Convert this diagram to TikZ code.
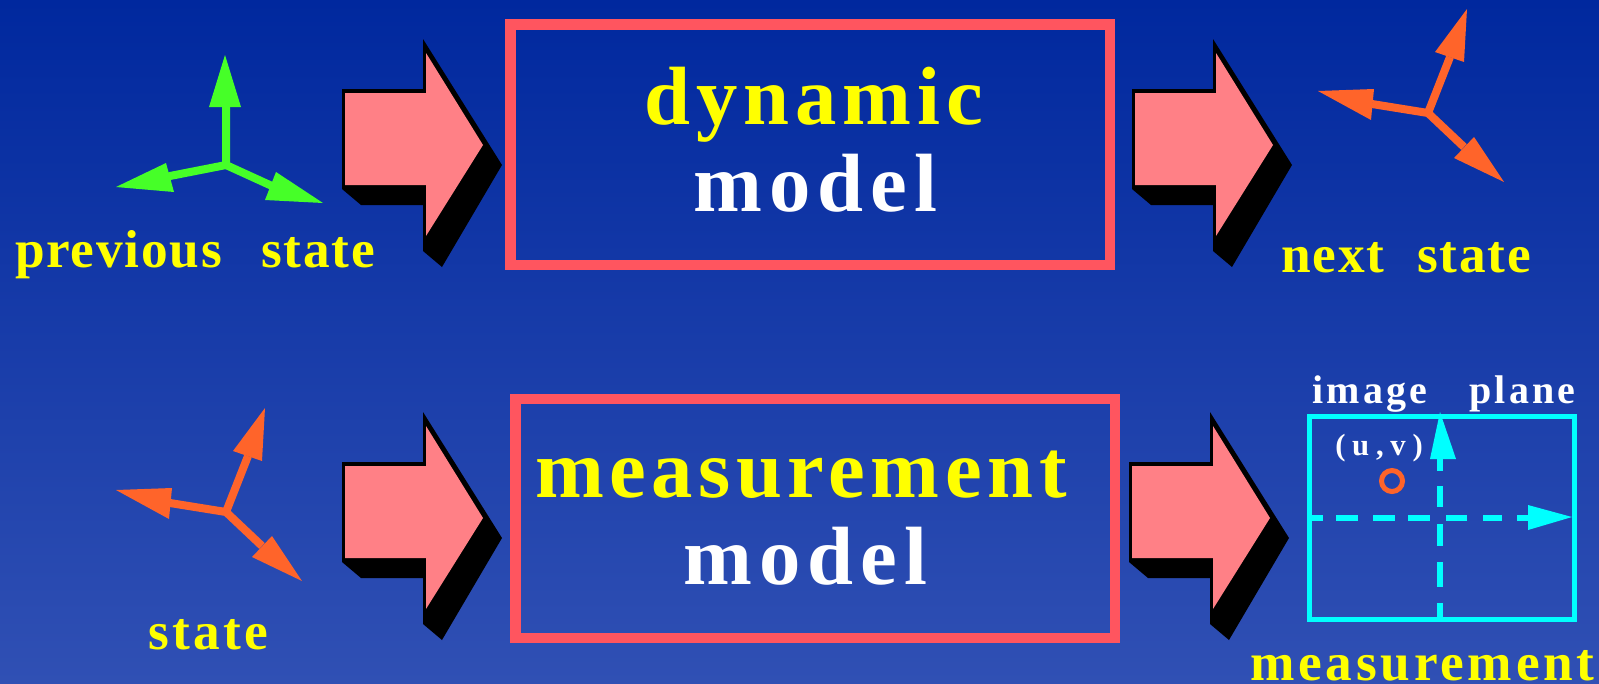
\documentclass[tikz,border=0pt]{standalone}
\usepackage{fontspec}
\setmainfont{Liberation Serif}
\newcommand{\bigtxt}{\fontsize{62}{62}\selectfont\bfseries\addfontfeature{LetterSpace=7.2}}
\newcommand{\modeltxt}{\fontsize{62}{62}\selectfont\bfseries\addfontfeature{LetterSpace=8.5}}
\newcommand{\longtxt}{\fontsize{62}{62}\selectfont\bfseries\addfontfeature{LetterSpace=6.7}}
\newcommand{\smalltxt}{\fontsize{40}{42}\selectfont\bfseries\addfontfeature{LetterSpace=3.2}}
\newcommand{\widetxt}{\fontsize{40}{42}\selectfont\bfseries\addfontfeature{LetterSpace=6}}
\newcommand{\bottomtxt}{\fontsize{40}{42}\selectfont\bfseries\addfontfeature{LetterSpace=7}}
\newcommand{\imgtxt}{\fontsize{30}{32}\selectfont\bfseries\addfontfeature{LetterSpace=8}}
\newcommand{\tinytxt}{\fontsize{23}{25}\selectfont\bfseries\addfontfeature{LetterSpace=22}}
\definecolor{boxred}{RGB}{255,85,95}
\definecolor{pinkfill}{RGB}{255,128,134}
\definecolor{orangeax}{RGB}{255,100,42}
\definecolor{greenax}{RGB}{70,255,40}
\definecolor{cyanax}{RGB}{0,255,255}
\definecolor{txtyellow}{RGB}{255,255,0}
\tikzset{
  modelbox/.style={draw=boxred,line width=8pt,fill=none},
  bigword/.style={anchor=base west,inner sep=0pt,font=\bigtxt},
  modelword/.style={anchor=base west,inner sep=0pt,font=\modeltxt,text=white},
  longword/.style={anchor=base west,inner sep=0pt,font=\longtxt},
  smallword/.style={anchor=base west,inner sep=0pt,font=\smalltxt,text=txtyellow},
  wideword/.style={anchor=base west,inner sep=0pt,font=\widetxt,text=txtyellow},
  bottomword/.style={anchor=base west,inner sep=0pt,font=\bottomtxt,text=txtyellow},
  imgword/.style={anchor=base west,inner sep=0pt,font=\imgtxt,text=white},
  axisline/.style={line width=6pt},
  cyanline/.style={draw=cyanax,line width=4.5pt},
}
\newcommand{\blockarrow}[2]{%
  \begin{scope}[shift={(#2)}]
    \fill[black] (342,89)--(423,89)--(423,39)--(502,165)--(442,267)--(423,251)--(423,205)--(361,205)--(342,189)--cycle;
    \fill[pinkfill] (345,93)--(426,93)--(426,53)--(483,145)--(426,236)--(426,185)--(345,185)--cycle;
    \coordinate (#1) at (483,145);
  \end{scope}}
\newcommand{\greentriad}{%
    \draw[greenax,axisline,line cap=round,line join=round] (226,107)--(226,165)--(170,176);
    \draw[greenax,axisline,line cap=round] (226,165)--(272,186);
    \fill[greenax] (209,107)--(225,55)--(241,107)--cycle;
    \fill[greenax] (116,187)--(166,163)--(174,192)--cycle;
    \fill[greenax] (323,203)--(276,172)--(265,200)--cycle;}
\newcommand{\orangetriad}{%
    \draw[orangeax,axisline] (22,-56)--(0,0)--(-56,-9);
    \draw[orangeax,axisline] (0,0)--(36,34);
    \fill[orangeax] (39,-104)--(7,-61)--(36,-51)--cycle;
    \fill[orangeax] (-110,-22)--(-54,-24)--(-57,7)--cycle;
    \fill[orangeax] (76,69)--(46,24)--(26,45)--cycle;}
\begin{document}
\begin{tikzpicture}[x=0.75pt,y=-0.75pt]
\useasboundingbox (0,0) rectangle (1599,683);
\shade[top color={rgb,255:red,0;green,40;blue,158},bottom color={rgb,255:red,48;green,80;blue,180}] (0,0) rectangle (1599,683);
% boxes
\draw[modelbox] (510.5,24.5) rectangle (1110,265);
\draw[modelbox] (515.5,399) rectangle (1115,638);
% block arrows
\blockarrow{a1}{0,0}
\blockarrow{a2}{790,0}
\blockarrow{a3}{0,373}
\blockarrow{a4}{787,373}
% big texts
\node[bigword,text=txtyellow] (t1) at (644,124) {dynamic};
\node[modelword] (t2) at (693,211) {model};
\node[longword,text=txtyellow] (t3) at (535,497) {measurement};
\node[modelword] (t4) at (683,584) {model};
% small labels
\node[smallword] (l1) at (15,267) {previous};
\node[smallword] (l2) at (261,267) {state};
\node[smallword] (l3) at (1281,272) {next};
\node[smallword] (l4) at (1417,272) {state};
\node[wideword] (l5) at (148,649) {state};
\node[bottomword] (l6) at (1250,680) {measurement};
\node[imgword] (l7) at (1312,403) {image};
\node[imgword] (l8) at (1469,403) {plane};
\node[anchor=base west,inner sep=0pt,font=\tinytxt,text=white] (l9) at (1335,455) {(u,v)};
% triads
\greentriad
\begin{scope}[shift={(1428,113)}]\orangetriad\end{scope}
\begin{scope}[shift={(226,512)}]\orangetriad\end{scope}
% image plane
\draw[cyanax,line width=3.75pt] (1309.5,416.5) rectangle (1574.5,619.5);
\draw[cyanline] (1312,518)--(1323,518) (1336,518)--(1358,518) (1373,518)--(1395,518) (1408,518)--(1430,518) (1446,518)--(1467,518) (1483,518)--(1502,518) (1517,518)--(1530,518);
\draw[cyanline,line width=4.9pt] (1440,458)--(1440,471) (1440,486)--(1440,507) (1440,524)--(1440,546) (1440,562)--(1440,587) (1440,603)--(1440,618);
\fill[cyanax] (1430,459)--(1440,412)--(1456,459)--cycle;
\fill[cyanax] (1528,505)--(1572,517)--(1528,530)--cycle;
\draw[orangeax,line width=3.75pt] (1392,481) circle (10.5);
\end{tikzpicture}
\end{document}
